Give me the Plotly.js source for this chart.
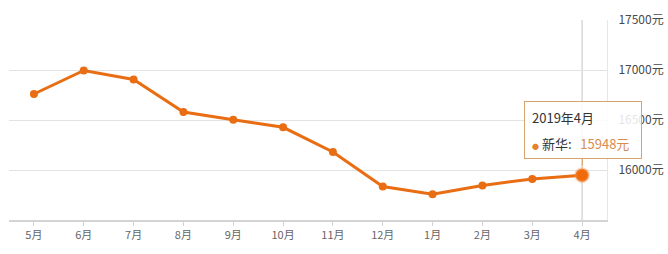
<!DOCTYPE html>
<html>
<head>
<meta charset="utf-8">
<script src="https://cdn.plot.ly/plotly-3.0.1.min.js"></script>
<style>
html,body{margin:0;padding:0;background:#fff;}
#chart{width:668px;height:254px;}
</style>
</head>
<body>
<div id="chart"></div>
<script>
// Data
const months = ['5月','6月','7月','8月','9月','10月','11月','12月','1月','2月','3月','4月'];
const prices = [16760, 16995, 16905, 16580, 16502, 16427, 16180, 15835, 15758, 15845, 15911, 15948];
const yTicks = [16000, 16500, 17000, 17500];
const seriesName = '新华';
const tooltipTitle = '2019年4月';
const unit = '元';

const lastX = months[months.length - 1];
const lastY = prices[prices.length - 1];

const orange = '#e96d12';
const font = '"Noto Sans CJK SC", "Noto Sans", sans-serif';

const traces = [
  {
    x: months, y: prices, type: 'scatter', mode: 'lines+markers',
    line: {color: orange, width: 3},
    marker: {color: orange, size: 8},
    hoverinfo: 'none'
  },
  {
    x: [lastX], y: [lastY], type: 'scatter', mode: 'markers',
    marker: {color: '#f06a0c', size: 13, line: {color: 'rgba(245,150,80,0.35)', width: 3}},
    hoverinfo: 'none'
  }
];

const layout = {
  width: 668, height: 254,
  margin: {l: 9, r: 61, t: 20, b: 34},
  paper_bgcolor: '#fff', plot_bgcolor: '#fff',
  showlegend: false,
  font: {family: font, color: '#555', size: 12},
  xaxis: {
    type: 'category', range: [-0.5, months.length - 0.5],
    showgrid: false, zeroline: false,
    showline: true, linecolor: '#d4d4d4', linewidth: 2,
    ticks: 'outside', ticklen: 4, tickcolor: '#d4d4d4', tickwidth: 1,
    tickfont: {size: 11, color: '#666', family: font},
    fixedrange: true
  },
  yaxis: {
    side: 'right', range: [15500, 17500],
    tickvals: yTicks, ticktext: yTicks.map(v => v + unit),
    showgrid: true, gridcolor: '#e3e3e3', gridwidth: 1,
    zeroline: false, showline: true, linecolor: '#e6e6e6', linewidth: 1,
    ticks: '', ticklabelstandoff: 8,
    tickfont: {size: 12, color: '#4a4a4a', family: font},
    fixedrange: true
  },
  shapes: [
    {type: 'line', xref: 'x', yref: 'paper', x0: lastX, x1: lastX, y0: 0, y1: 1,
     line: {color: '#c4c4c4', width: 1}, layer: 'below'}
  ],
  annotations: [
    {
      x: lastX, y: lastY, xref: 'x', yref: 'y',
      text: ' ', showarrow: true, ax: 1, ay: -45,
      arrowhead: 0, arrowwidth: 1, arrowcolor: '#d8a46c', standoff: 9,
      width: 108, height: 48, borderpad: 4,
      bgcolor: 'rgba(255,255,255,0.85)', bordercolor: '#d8a46c', borderwidth: 1
    },
    {
      x: lastX, y: lastY, xref: 'x', yref: 'y', showarrow: false,
      xanchor: 'left', yanchor: 'middle', xshift: -52, yshift: 58,
      text: tooltipTitle, font: {size: 13, color: '#333', family: font}
    },
    {
      x: lastX, y: lastY, xref: 'x', yref: 'y', showarrow: false,
      xanchor: 'left', yanchor: 'middle', xshift: -52, yshift: 32,
      text: '<span style="color:#e5812f;font-size:7px">●</span>\u00a0' + seriesName + ':\u00a0\u00a0\u00a0<span style="color:#d98c4e">' + lastY + unit + '</span>',
      font: {size: 13, color: '#333', family: font}
    }
  ]
};

Plotly.newPlot('chart', traces, layout, {displayModeBar: false, staticPlot: true});
</script>
</body>
</html>
